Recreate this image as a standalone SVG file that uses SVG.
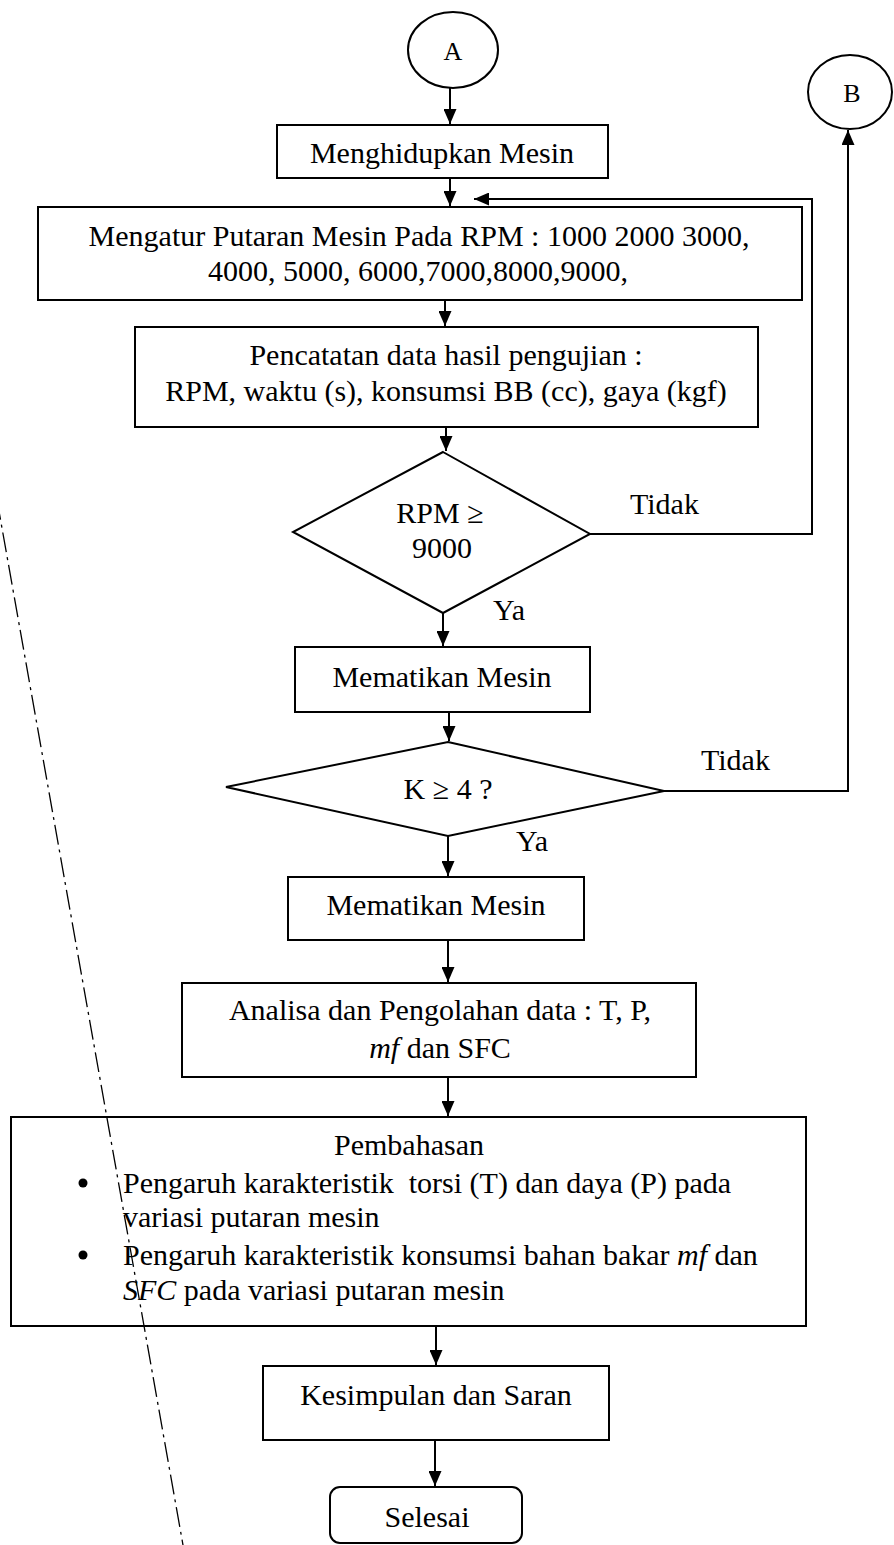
<svg xmlns="http://www.w3.org/2000/svg" width="894" height="1545" viewBox="0 0 894 1545">
<style>
.box{fill:#fff;stroke:#000;stroke-width:2}
.t{font-family:"Liberation Serif","Times New Roman",serif;font-size:30px;fill:#000}
.c{text-anchor:middle}
.i{font-style:italic}
#connectors path{fill:none;stroke:#000;stroke-width:2}
.fold{fill:none;stroke:#000;stroke-width:1.3;stroke-dasharray:20 5 3 5}
</style>
<defs>
<marker id="ah" viewBox="0 0 15 13" refX="15" refY="6.5" markerWidth="15" markerHeight="13" markerUnits="userSpaceOnUse" orient="auto">
<path d="M0,0 L15,6.5 L0,13 z" fill="#000"/>
</marker>
</defs>
<rect width="894" height="1545" fill="#fff"/>
<g id="connectors">
<path d="M450 88 V124" marker-end="url(#ah)"/>
<path d="M450 178 V206" marker-end="url(#ah)"/>
<path d="M590 534 H812 V199 H474" marker-end="url(#ah)"/>
<path d="M445 300 V326" marker-end="url(#ah)"/>
<path d="M446 427 V451" marker-end="url(#ah)"/>
<path d="M443 613 V646" marker-end="url(#ah)"/>
<path d="M449 712 V741" marker-end="url(#ah)"/>
<path d="M448 836 V876" marker-end="url(#ah)"/>
<path d="M448 940 V982" marker-end="url(#ah)"/>
<path d="M448 1077 V1116" marker-end="url(#ah)"/>
<path d="M436 1326 V1365" marker-end="url(#ah)"/>
<path d="M435 1440 V1486" marker-end="url(#ah)"/>
<path d="M664 791 H848 V130" marker-end="url(#ah)"/>
</g>
<g id="nodeA">
<ellipse class="box" cx="453" cy="50" rx="45" ry="38"/>
<text class="t c" x="453" y="60" style="font-size:26px">A</text>
</g>
<g id="nodeB">
<ellipse class="box" cx="850" cy="92" rx="42" ry="37"/>
<text class="t c" x="852" y="102" style="font-size:26px">B</text>
</g>
<g id="n1">
<rect class="box" x="277" y="125" width="331" height="53"/>
<text class="t c" x="442" y="163">Menghidupkan Mesin</text>
</g>
<g id="n2">
<rect class="box" x="38" y="207" width="764" height="93"/>
<text class="t c" x="419" y="246">Mengatur Putaran Mesin Pada RPM : 1000 2000 3000,</text>
<text class="t c" x="418" y="281">4000, 5000, 6000,7000,8000,9000,</text>
</g>
<g id="n3">
<rect class="box" x="135" y="327" width="623" height="100"/>
<text class="t c" x="446" y="365">Pencatatan data hasil pengujian :</text>
<text class="t c" x="446" y="401">RPM, waktu (s), konsumsi BB (cc), gaya (kgf)</text>
</g>
<g id="d1">
<polygon class="box" points="443,452 590,534 443,613 293,532"/>
<text class="t c" x="440" y="523">RPM ≥</text>
<text class="t c" x="442" y="558">9000</text>
<text class="t" x="630" y="514">Tidak</text>
<text class="t" x="493" y="620">Ya</text>
</g>
<g id="n4">
<rect class="box" x="295" y="647" width="295" height="65"/>
<text class="t c" x="442" y="687">Mematikan Mesin</text>
</g>
<g id="d2">
<polygon class="box" points="448,742 664,791 448,836 226,787"/>
<text class="t c" x="448" y="799">K ≥ 4 ?</text>
<text class="t" x="701" y="770">Tidak</text>
<text class="t" x="516" y="851">Ya</text>
</g>
<g id="n5">
<rect class="box" x="288" y="877" width="296" height="63"/>
<text class="t c" x="436" y="915">Mematikan Mesin</text>
</g>
<g id="n6">
<rect class="box" x="182" y="983" width="514" height="94"/>
<text class="t c" x="440" y="1020">Analisa dan Pengolahan data : T, P,</text>
<text class="t c" x="440" y="1058"><tspan class="i">mf</tspan> dan SFC</text>
</g>
<g id="n7">
<rect class="box" x="11" y="1117" width="795" height="209"/>
<text class="t c" x="409" y="1155">Pembahasan</text>
<circle cx="83" cy="1183" r="4.5" fill="#000"/>
<circle cx="83" cy="1255" r="4.5" fill="#000"/>
<text class="t" x="123" y="1193" xml:space="preserve">Pengaruh karakteristik  torsi (T) dan daya (P) pada</text>
<text class="t" x="123" y="1227">variasi putaran mesin</text>
<text class="t" x="123" y="1265">Pengaruh karakteristik konsumsi bahan bakar <tspan class="i">mf</tspan> dan</text>
<text class="t" x="123" y="1300"><tspan class="i">SFC</tspan> pada variasi putaran mesin</text>
</g>
<g id="n8">
<rect class="box" x="263" y="1366" width="346" height="74"/>
<text class="t c" x="436" y="1405">Kesimpulan dan Saran</text>
</g>
<g id="n9">
<rect class="box" x="330" y="1487" width="192" height="56" rx="10"/>
<text class="t c" x="427" y="1527">Selesai</text>
</g>
<path class="fold" d="M-3 500 L183 1545"/>
</svg>
